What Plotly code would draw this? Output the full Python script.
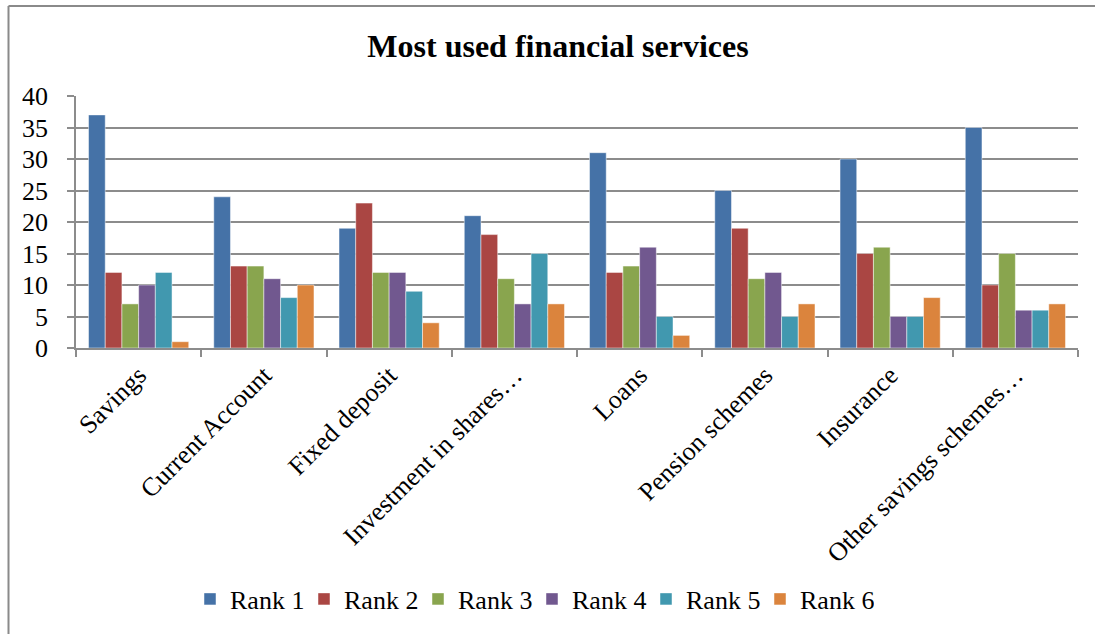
import plotly.graph_objects as go

categories = ["Savings", "Current Account", "Fixed deposit", "Investment in shares…",
              "Loans", "Pension schemes", "Insurance", "Other savings schemes…"]
series_names = ["Rank 1", "Rank 2", "Rank 3", "Rank 4", "Rank 5", "Rank 6"]
rank1 = [37, 24, 19, 21, 31, 25, 30, 35]
rank2 = [12, 13, 23, 18, 12, 19, 15, 10]
rank3 = [7, 13, 12, 11, 13, 11, 16, 15]
rank4 = [10, 11, 12, 7, 16, 12, 5, 6]
rank5 = [12, 8, 9, 15, 5, 5, 5, 6]
rank6 = [1, 10, 4, 7, 2, 7, 8, 7]
colors = ["#4572A7", "#AA4643", "#89A54E", "#71588F", "#4198AF", "#DB843D"]

series_values = [rank1, rank2, rank3, rank4, rank5, rank6]

FONT = "Liberation Serif, Times New Roman, serif"
GRID = "#8c8c8c"

fig = go.Figure()
for name, vals, col in zip(series_names, series_values, colors):
    fig.add_trace(go.Bar(
        x=categories, y=vals, name=name,
        marker=dict(color=col, line=dict(color="rgba(255,255,255,0.6)", width=0.8)),
    ))

L, R, T, B = 76, 17, 96, 286
W, H = 1095, 634
pw, ph = W - L - R, H - T - B

def px_x(p):
    return (p - L) / pw

def px_y(p):
    return (H - B - p) / ph

fig.update_layout(
    width=W, height=H,
    margin=dict(l=L, r=R, t=T, b=B),
    paper_bgcolor="white", plot_bgcolor="white",
    barmode="group", bargap=0.2, bargroupgap=0,
    font=dict(family=FONT, size=26, color="black"),
    title=dict(text="<b>Most used financial services</b>",
               font=dict(family=FONT, size=32, color="black"),
               x=px_x(558), xref="paper", xanchor="center",
               y=1 - 46 / H, yref="container", yanchor="middle"),
    showlegend=True,
    legend=dict(orientation="h", x=px_x(532), xanchor="center",
                y=px_y(599), yanchor="middle",
                font=dict(family=FONT, size=26), itemwidth=30,
                entrywidth=69, entrywidthmode="pixels",
                traceorder="normal", bgcolor="rgba(0,0,0,0)"),
    xaxis=dict(type="category", tickangle=-45, showline=True, linecolor=GRID,
               linewidth=1.5, ticks="outside", tickson="boundaries",
               ticklen=7, tickcolor=GRID, tickwidth=1.5, showgrid=False,
               tickfont=dict(family=FONT, size=26)),
    yaxis=dict(range=[0, 40], dtick=5, showline=True, linecolor=GRID,
               linewidth=1.5, ticks="outside", ticklen=7, tickcolor=GRID,
               tickwidth=1.5, showgrid=True, gridcolor=GRID, gridwidth=2,
               zeroline=False, ticklabelstandoff=14,
               tickfont=dict(family=FONT, size=26)),
    shapes=[
        dict(type="line", xref="paper", yref="paper",
             x0=px_x(8.5), x1=px_x(1095), y0=px_y(6), y1=px_y(6),
             line=dict(color="#8a8a8a", width=2)),
        dict(type="line", xref="paper", yref="paper",
             x0=px_x(8.5), x1=px_x(8.5), y0=px_y(6), y1=px_y(634),
             line=dict(color="#8a8a8a", width=2)),
    ],
)

fig.write_html("out.html")
